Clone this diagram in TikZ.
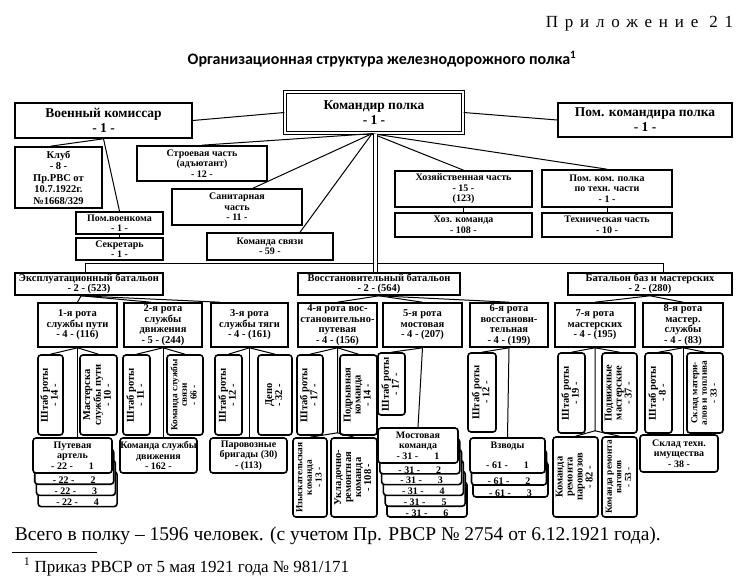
\documentclass[tikz,border=0pt]{standalone}
\usepackage{fontspec}
\setmainfont{Liberation Serif}
\newfontfamily\headfont{Carlito}
\newfontfamily\spacedfont[LetterSpace=40]{Liberation Serif}
\usepackage{graphicx}
\newcommand{\vtext}[1]{\rotatebox{90}{\begin{tabular}{@{}c@{}}#1\end{tabular}}}

\begin{document}
\begin{tikzpicture}[x=1pt, y=-1pt, line width=1pt,
        box/.style={draw, line width=1.6pt, fill=white, align=center, inner sep=0pt},
        rbox/.style={box, rounded corners=3pt},
        big/.style={font=\bfseries\fontsize{13.5}{15}\selectfont},
        mid/.style={font=\bfseries\fontsize{10.5}{10.5}\selectfont},
        small/.style={font=\bfseries\fontsize{10}{10.5}\selectfont},
        upright/.style={font=\bfseries\fontsize{10.5}{10}\selectfont},
        narrow/.style={font=\bfseries\fontsize{9.3}{9.6}\selectfont},
        tag/.style={font=\bfseries\fontsize{10}{10}\selectfont, anchor=south, inner sep=1pt}]
        \useasboundingbox (0,0) rectangle (743,580);
        \node[font=\spacedfont\fontsize{17}{17}\selectfont, anchor=east] (app) at (737,24) {Приложение 21};
        \node[font=\headfont\bfseries\fontsize{16}{16}\selectfont] (title) at (382,59) {Организационная структура железнодорожного полка\textsuperscript{1}};
        % head of the regiment
        \node[box, big, double, double distance=1.5pt, line width=1.3pt, minimum width=178, minimum height=41] (kom) at (374,112.5) {Командир полка\\- 1 -};
        \node[box, big, minimum width=177, minimum height=35] (voen) at (103.5,120.5) {Военный комиссар\\- 1 -};
        \node[box, big, minimum width=174, minimum height=34] (pom) at (645,120) {Пом. командира полка\\- 1 -};
        \node[box, font=\bfseries\fontsize{10.5}{11.5}\selectfont, minimum width=87, minimum height=61] (klub) at (58.5,177.5) {Клуб\\- 8 -\\Пр.РВС от\\10.7.1922г.\\№1668/329};
        \node[box, small, minimum width=87, minimum height=22] (pomvoen) at (119.5,223) {Пом.военкома\\- 1 -};
        \node[box, small, minimum width=87, minimum height=22] (sekr) at (119.5,249) {Секретарь\\- 1 -};
        \node[box, small, minimum width=130, minimum height=35] (stroy) at (202,163.5) {Строевая часть\\(адъютант)\\- 12 -};
        \node[box, small, minimum width=130, minimum height=36] (sanit) at (237,207) {Санитарная\\часть\\- 11 -};
        \node[box, small, minimum width=126, minimum height=27] (svyaz) at (270,246.5) {Команда связи\\- 59 -};
        \node[box, small, minimum width=137, minimum height=36] (hoz) at (463.5,189) {Хозяйственная часть\\- 15 -\\(123)};
        \node[box, small, minimum width=137, minimum height=24] (hozkom) at (463.5,225) {Хоз. команда\\- 108 -};
        \node[box, small, minimum width=130, minimum height=37] (pomteh) at (607,188.5) {Пом. ком. полка\\по техн. части\\- 1 -};
        \node[box, small, minimum width=130, minimum height=24] (teh) at (607,225) {Техническая часть\\- 10 -};
        % battalions
        \node[box, mid, minimum width=148, minimum height=22] (bat1) at (89,284) {Эксплуатационный батальон\\- 2 - (523)};
        \node[box, mid, minimum width=162, minimum height=22] (bat2) at (379,284) {Восстановительный батальон\\- 2 - (564)};
        \node[box, mid, minimum width=164, minimum height=22] (bat3) at (650,284) {Батальон баз и мастерских\\- 2 - (280)};
        % companies
        \node[box, mid, minimum width=79, minimum height=44] (r1) at (77.5,325) {1-я рота\\службы пути\\- 4 - (116)};
        \node[box, mid, minimum width=78, minimum height=44] (r2) at (163,325) {2-я рота\\службы\\движения\\- 5 - (244)};
        \node[box, mid, minimum width=77, minimum height=44] (r3) at (249.5,325) {3-я рота\\службы тяги\\- 4 - (161)};
        \node[box, mid, minimum width=79, minimum height=44] (r4) at (337.5,325) {4-я рота вос-\\становительно-\\путевая\\- 4 - (156)};
        \node[box, mid, minimum width=79, minimum height=44] (r5) at (422.5,325) {5-я рота\\мостовая\\- 4 - (207)};
        \node[box, mid, minimum width=78, minimum height=44] (r6) at (509,325) {6-я рота\\восстанови-\\тельная\\- 4 - (199)};
        \node[box, mid, minimum width=80, minimum height=44] (r7) at (595,325) {7-я рота\\мастерских\\- 4 - (195)};
        \node[box, mid, minimum width=80, minimum height=44] (r8) at (683,325) {8-я рота\\мастер.\\службы\\- 4 - (83)};
        % upright subunits
        \node[rbox, upright, minimum width=25, minimum height=80] (s1) at (50.5,395) {\vtext{Штаб роты\\- 14 -}};
        \node[rbox, upright, minimum width=37, minimum height=80] (m1) at (98.5,395) {\vtext{Мастерска\\службы пути\\- 10 -}};
        \node[rbox, upright, minimum width=27, minimum height=80] (s2) at (136.5,395) {\vtext{Штаб роты\\- 11 -}};
        \node[rbox, narrow, minimum width=36, minimum height=80] (ks2) at (185,395) {\vtext{Команда службы\\связи\\- 66 -}};
        \node[rbox, upright, minimum width=27, minimum height=80] (s3) at (228.5,395) {\vtext{Штаб роты\\- 12 -}};
        \node[rbox, upright, minimum width=34, minimum height=80] (depo) at (275,395) {\vtext{Депо\\- 32 -}};
        \node[rbox, upright, minimum width=26, minimum height=80] (s4) at (310,395) {\vtext{Штаб роты\\- 17 -}};
        \node[rbox, upright, minimum width=37, minimum height=80] (podr) at (358.5,395) {\vtext{Подрывная\\команда\\- 14 -}};
        \node[rbox, upright, minimum width=27, minimum height=62] (s5) at (391.5,384) {\vtext{Штаб роты\\- 17 -}};
        \node[rbox, upright, minimum width=28, minimum height=79] (s6) at (482,392.5) {\vtext{Штаб роты\\- 12 -}};
        \node[rbox, upright, minimum width=27, minimum height=80] (s7) at (571.5,393) {\vtext{Штаб роты\\- 19 -}};
        \node[rbox, upright, minimum width=35, minimum height=80] (podv) at (619.5,393) {\vtext{Подвижные\\мастерские\\- 37 -}};
        \node[rbox, upright, minimum width=27, minimum height=80] (s8) at (658.5,393) {\vtext{Штаб роты\\- 8 -}};
        \node[rbox, narrow, minimum width=36, minimum height=80] (sklm) at (705,393) {\vtext{Склад матери-\\алов и топлива\\- 33 -}};
        % lower units
        \node[rbox, small, minimum width=79, minimum height=35, label={[tag]south:- 22 -\hspace{1.6em}4}] (art4) at (77.6,489.1) {};
        \node[rbox, small, minimum width=79, minimum height=35, label={[tag]south:- 22 -\hspace{1.6em}3}] (art3) at (75.9,477.9) {};
        \node[rbox, small, minimum width=79, minimum height=35, label={[tag]south:- 22 -\hspace{1.6em}2}] (art2) at (74.2,466.7) {};
        \node[rbox, small, minimum width=79, minimum height=35] (art1) at (72.5,455.5) {Путевая\\артель\\- 22 -\hspace{1.6em}1};
        \node[rbox, small, minimum width=77, minimum height=35] (ksd) at (158.5,455.5) {Команда службы\\движения\\- 162 -};
        \node[rbox, small, minimum width=77, minimum height=35] (parb) at (248.5,455.5) {Паровозные\\бригады (30)\\- (113)};
        \node[rbox, narrow, minimum width=34, minimum height=79] (izy) at (310,477.5) {\vtext{Изыскательская\\команда\\- 13 -}};
        \node[rbox, upright, minimum width=46, minimum height=79] (ukl) at (354,477.5) {\vtext{Укладочно-\\ремонтная\\команда\\- 108 -}};
        \node[rbox, small, minimum width=80, minimum height=35, label={[tag]south:- 31 -\hspace{1.6em}6}] (mos6) at (427,499.5) {};
        \node[rbox, small, minimum width=80, minimum height=35, label={[tag]south:- 31 -\hspace{1.6em}5}] (mos5) at (425.2,488.7) {};
        \node[rbox, small, minimum width=80, minimum height=35, label={[tag]south:- 31 -\hspace{1.6em}4}] (mos4) at (423.4,477.9) {};
        \node[rbox, small, minimum width=80, minimum height=35, label={[tag]south:- 31 -\hspace{1.6em}3}] (mos3) at (421.6,467.1) {};
        \node[rbox, small, minimum width=80, minimum height=35, label={[tag]south:- 31 -\hspace{1.6em}2}] (mos2) at (419.8,456.3) {};
        \node[rbox, small, minimum width=80, minimum height=35] (mos1) at (418,445.5) {Мостовая\\команда\\- 31 -\hspace{1.6em}1};
        \node[rbox, small, minimum width=75, minimum height=35, label={[tag]south:- 61 -\hspace{1.6em}3}] (vzv3) at (510.5,479.5) {};
        \node[rbox, small, minimum width=75, minimum height=35, label={[tag]south:- 61 -\hspace{1.6em}2}] (vzv2) at (509,467.5) {};
        \node[rbox, small, minimum width=75, minimum height=35] (vzv1) at (507.5,455.5) {Взводы\\[9pt]- 61 -\hspace{1.6em}1};
        \node[rbox, upright, minimum width=45, minimum height=80] (krp) at (575.5,477) {\vtext{Команда\\ремонта\\паровозов\\- 82 -}};
        \node[rbox, narrow, minimum width=35, minimum height=80] (krv) at (619.5,477) {\vtext{Команда ремонта\\вагонов\\- 53 -}};
        \node[rbox, small, minimum width=78, minimum height=37] (sklt) at (679,453.5) {Склад техн.\\имущества\\- 38 -};
        % links at the top
        \draw (voen.east) -- (kom.west);
        \draw (kom.east) -- (pom.west);
        \draw (voen.south) -- ([xshift=-8pt]klub.north);
        \draw (voen.south) -- (pomvoen.north);
        \draw (pomvoen.south) -- (sekr.north);
        \coordinate (fan) at ([xshift=-2pt]kom.south);
        \draw (fan) -- (stroy.north);
        \draw (fan) -- ([xshift=16pt]sanit.north);
        \draw (fan) -- ([xshift=30pt]svyaz.north);
        \draw (fan) -- (hoz.north);
        \draw (fan) -- (pomteh.north);
        \draw (hoz.south) -- (hozkom.north);
        \draw (pomteh.south) -- (teh.north);
        % battalions
        \draw ([xshift=-4pt]bat1.north) -- ++(0,-9) -| ([xshift=13pt]bat3.north);
        \draw[line width=0.9pt, double distance=3pt] ([xshift=1.5pt]kom.south) -- ([xshift=1.5pt]kom.south |- bat2.north);
        \draw ([xshift=-8pt]bat1.south) -- (r1.north);
        \draw ([xshift=-8pt]bat1.south) -- ([xshift=-12pt]r2.north);
        \draw ([xshift=-8pt]bat1.south) -- ([xshift=-30pt]r3.north);
        \draw (bat2.south) -- (r4.north);
        \draw (bat2.south) -- (r5.north);
        \draw (bat2.south) -- (r6.north);
        \draw (bat3.south) -- (r7.north);
        \draw (bat3.south) -- (r8.north);
        % companies
        \draw (r1.south) -- (s1.north);
        \draw (r1.south) -- (m1.north);
        \draw (r1.south) -- (r1.south |- art1.north);
        \draw (r2.south) -- (s2.north);
        \draw (r2.south) -- (ks2.north);
        \draw (r2.south) -- (r2.south |- ksd.north);
        \draw (r3.south) -- (s3.north);
        \draw (r3.south) -- (depo.north);
        \draw (r3.south) -- (r3.south |- parb.north);
        \draw (r4.south) -- (s4.north);
        \draw (r4.south) -- (podr.north);
        \draw (r4.south) -- ++(0,85) coordinate (sp4) -- (izy.north);
        \draw (sp4) -- (ukl.north);
        \draw (r5.south) -- (s5.north);
        \draw (r5.south) -- (mos1.north);
        \draw (r6.south) -- (s6.north);
        \draw (r6.south) -- (vzv1.north);
        \draw (r7.south) -- (s7.north);
        \draw (r7.south) -- (podv.north);
        \draw (r7.south) -- ++(0,83) coordinate (sp7) -- (krp.north);
        \draw (sp7) -- (krv.north);
        \draw (r8.south) -- (s8.north);
        \draw (r8.south) -- (sklm.north);
        \draw (r8.south) -- (r8.south |- sklt.north);
        % footer
        \node[anchor=west, font=\fontsize{19.5}{19.5}\selectfont] (total) at (11,536) {Всего в полку – 1596 человек. (с учетом Пр. РВСР № 2754 от 6.12.1921 года).};
        \draw[line width=0.8pt] (12,552) -- (97,552);
        \node[anchor=west, font=\fontsize{17}{17}\selectfont] (note) at (20,567) {\textsuperscript{1} Приказ РВСР от 5 мая 1921 года № 981/171};
\end{tikzpicture}
\end{document}
